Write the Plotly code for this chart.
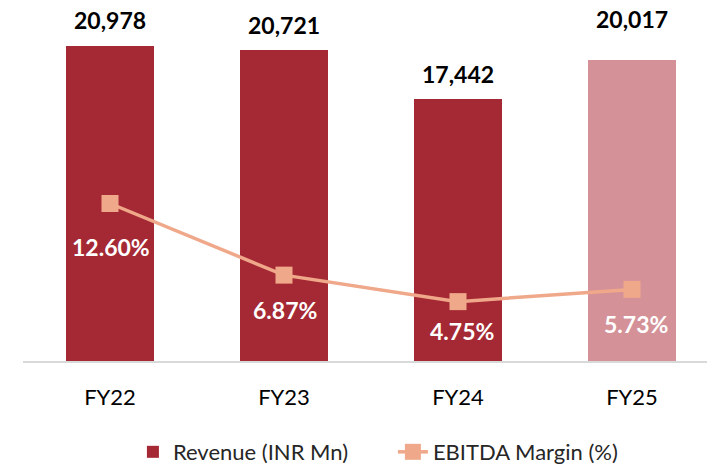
import plotly.graph_objects as go

categories = ["FY22", "FY23", "FY24", "FY25"]
revenue = [20978, 20721, 17442, 20017]
ebitda_margin = [12.60, 6.87, 4.75, 5.73]
revenue_labels = ["20,978", "20,721", "17,442", "20,017"]
margin_labels = ["12.60%", "6.87%", "4.75%", "5.73%"]

# styles
bar_colors = ["#A52934", "#A52934", "#A52934", "#D49198"]
line_color = "#F0A88A"
rev_label_shift = [26, 25, 25, 41]
margin_label_shift = [-43, -35, -29, -35]
margin_label_xshift = [1, 1, 4, 4]
FONT = "Lato"

fig = go.Figure()
fig.add_trace(go.Bar(
    x=categories, y=revenue, name="Revenue (INR Mn)",
    marker=dict(color=bar_colors, line=dict(width=0)),
    width=0.505, yaxis="y",
))
fig.add_trace(go.Scatter(
    x=categories, y=ebitda_margin, name="EBITDA Margin (%)",
    mode="lines+markers",
    line=dict(color=line_color, width=3.5),
    marker=dict(symbol="square", size=17, color=line_color),
    yaxis="y2",
))

for i, c in enumerate(categories):
    fig.add_annotation(
        x=c, y=revenue[i], xref="x", yref="y", text="<b>%s</b>" % revenue_labels[i],
        showarrow=False, yanchor="middle", yshift=rev_label_shift[i],
        font=dict(family=FONT, size=23, color="#000000"),
    )
    fig.add_annotation(
        x=c, y=ebitda_margin[i], xref="x", yref="y2", text="<b>%s</b>" % margin_labels[i],
        showarrow=False, yanchor="middle", yshift=margin_label_shift[i],
        xshift=margin_label_xshift[i],
        font=dict(family=FONT, size=23, color="#FFFFFF"),
    )

fig.update_layout(
    width=707, height=466,
    margin=dict(l=23, r=0, t=0, b=105, autoexpand=False),
    paper_bgcolor="#FFFFFF", plot_bgcolor="#FFFFFF",
    font=dict(family=FONT, color="#000000"),
    showlegend=True,
    legend=dict(
        orientation="h", xref="container", yref="container",
        x=0.188, y=0.03, xanchor="left", yanchor="middle",
        font=dict(family=FONT, size=22, color="#262626"),
        entrywidth=215, traceorder="normal",
    ),
    xaxis=dict(
        type="category", range=[-0.5, 3.431],
        showgrid=False, zeroline=False,
        showline=True, linecolor="#D9D9D9", linewidth=2,
        ticks="", ticklabelstandoff=16,
        tickfont=dict(family=FONT, size=22, color="#000000"),
    ),
    yaxis=dict(range=[0, 24041], visible=False, showgrid=False, zeroline=False),
    yaxis2=dict(range=[0, 28.88], overlaying="y", side="right",
                visible=False, showgrid=False, zeroline=False),
    bargap=0,
)

fig.write_html(
    "out.html",
    config={"displayModeBar": False},
    post_script="document.body.style.margin='0';document.body.style.overflow='hidden';",
)
